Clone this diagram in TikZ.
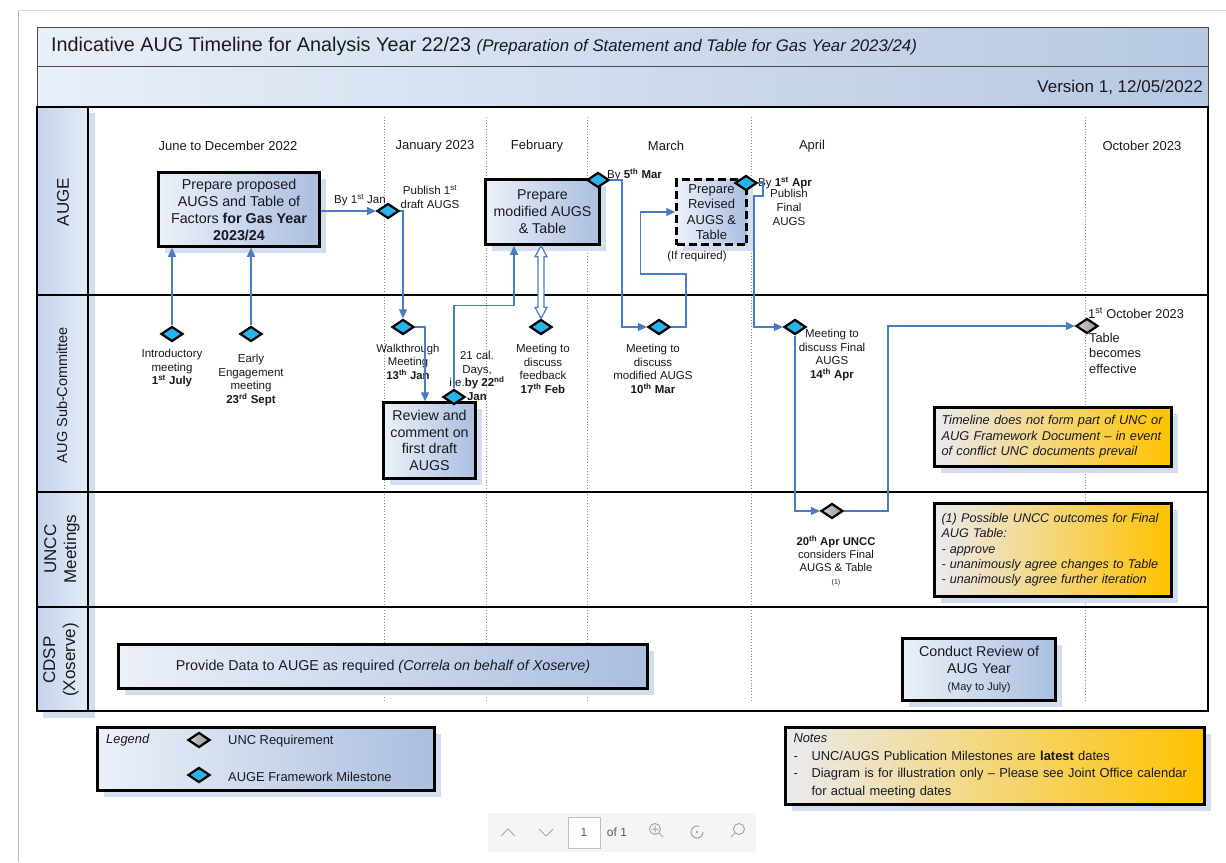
\documentclass[tikz,border=0pt]{standalone}
\usepackage{fontspec}
\setmainfont{Liberation Sans}
\usetikzlibrary{shapes.geometric,arrows.meta,calc,shadows}
\definecolor{connc}{RGB}{74,124,196}
\definecolor{dblue}{RGB}{38,180,236}
\definecolor{boxl}{RGB}{236,241,249}
\definecolor{boxr}{RGB}{170,190,222}
\definecolor{shad}{RGB}{210,222,240}
\definecolor{gold}{RGB}{255,194,0}
\definecolor{notel}{RGB}{234,234,240}
\definecolor{gridc}{RGB}{140,140,140}
\definecolor{txt}{RGB}{25,25,35}
\definecolor{titl}{RGB}{233,239,248}
\definecolor{titr}{RGB}{182,200,226}
\definecolor{coll}{RGB}{196,211,235}
\definecolor{colr}{RGB}{228,235,246}
\newcommand{\fsz}[2]{\fontsize{#1}{#2}\selectfont}
\newcommand{\sups}[1]{\textsuperscript{#1}}
\begin{document}
\begin{tikzpicture}[x=1pt,y=-1pt,
  every node/.style={text=txt, inner sep=0pt},
  conn/.style={draw=connc, line width=1.4pt},
  arr/.style={conn, -{Triangle[length=9pt,width=8pt]}},
  bdia/.style={diamond, draw=black, line width=2.2pt, fill=dblue, minimum width=22pt, minimum height=15pt, inner sep=0pt},
  gdia/.style={diamond, draw=black, line width=2.2pt, left color=gray!35, right color=gray!85, minimum width=22pt, minimum height=15pt, inner sep=0pt},
  tbox/.style={draw=black, line width=2.5pt, left color=boxl, right color=boxr, align=center, drop shadow={shadow xshift=6pt, shadow yshift=-6pt, fill=shad, opacity=1}},
  nbox/.style={draw=black, line width=2.5pt, left color=notel, right color=gold, align=left, drop shadow={shadow xshift=6pt, shadow yshift=-6pt, fill=shad, opacity=1}},
  lbl/.style={font=\fsz{11.5}{13.7}, align=center},
  month/.style={font=\fsz{13}{15}},
  gridln/.style={draw=gridc, dotted, line width=0.9pt},
  lanel/.style={draw=black, line width=2.5pt},
  ui/.style={draw=gray!70, line width=1pt},
]
\useasboundingbox (0,0) rectangle (1226,862);
\fill[white] (0,0) rectangle (1226,862);
\draw[gray!55, line width=1pt] (18,10) -- (18,862);
\draw[gray!30, line width=0.8pt] (18,10) -- (1226,10);

% title bar
\draw[gray!60!black, line width=1pt, left color=titl, right color=titr] (37,27) rectangle (1208,107);
\draw[gray!60!black, line width=1pt] (37,66) -- (1208,66);
\node[anchor=west, font=\fsz{19.8}{22}] (title) at (51,46.5) {Indicative AUG Timeline for Analysis Year 22/23 {\fsz{16.8}{19}\itshape (Preparation of Statement and Table for Gas Year 2023/24)}};
\node[anchor=east, font=\fsz{17}{20}] (version) at (1203,87) {Version 1, 12/05/2022};

% lanes
\fill[shad] (43,113) rectangle (95,718);
\fill[left color=coll, right color=colr] (37,107) rectangle (88,711);
\foreach \x in {384,486,587,751,1085} \draw[gridln] (\x,117) -- (\x,702);
\draw[lanel] (37,107) rectangle (1208,711);
\draw[lanel] (88,107) -- (88,711);
\foreach \y in {295,492,607} \draw[lanel] (37,\y) -- (1208,\y);

\node[rotate=90, font=\fsz{17}{19}] (lauge) at (63,202) {AUGE};
\node[rotate=90, font=\fsz{14.5}{17}] (lsub) at (62,395) {AUG Sub-Committee};
\node[rotate=90, font=\fsz{17}{20}, align=center] (luncc) at (62,549) {UNCC\\Meetings};
\node[rotate=90, font=\fsz{17}{20}, align=center] (lcdsp) at (61,660) {CDSP\\(Xoserve)};

% months
\node[month] (m1) at (228,146) {June to December 2022};
\node[month] (m2) at (435,146) {January 2023};
\node[month] (m3) at (537,146) {February};
\node[month] (m4) at (666,146) {March};
\node[month] (m5) at (812,146) {April};
\node[month] (m6) at (1142,146) {October 2023};

% boxes
\node[tbox, minimum width=161pt, minimum height=74pt, font=\fsz{14.3}{17}] (prop) at (239,209.5) {Prepare proposed\\AUGS and Table of\\Factors \textbf{for Gas Year}\\\textbf{2023/24}};
\node[tbox, minimum width=114pt, minimum height=65pt, font=\fsz{14.2}{17}] (mod) at (542.5,212) {Prepare\\modified AUGS\\\& Table};
\node[tbox, dashed, dash pattern=on 8pt off 4pt, minimum width=70pt, minimum height=65pt, font=\fsz{13}{15.5}] (rev) at (711.5,212) {Prepare\\Revised\\AUGS \&\\Table};
\node[tbox, minimum width=92pt, minimum height=76pt, font=\fsz{14.2}{16.5}] (review) at (429.5,440.5) {Review and\\comment on\\first draft\\AUGS};
\node[tbox, minimum width=529pt, minimum height=44pt, font=\fsz{14.3}{17}] (cdsp1) at (383,666.5) {Provide Data to AUGE as required \textit{(Correla on behalf of Xoserve)}};
\node[tbox, minimum width=153pt, minimum height=62pt, font=\fsz{14.3}{17}] (cdsp2) at (979,669.5) {Conduct Review of\\AUG Year\\{\fsz{11}{15}(May to July)}};

\node[nbox, minimum width=237pt, minimum height=59pt, text width=223pt, font=\fsz{12.8}{15.5}\itshape] (note1) at (1053,437) {Timeline does not form part of UNC or\\AUG Framework Document – in event\\of conflict UNC documents prevail};
\node[nbox, minimum width=237pt, minimum height=93pt, text width=223pt, font=\fsz{12.6}{15.3}\itshape] (note2) at (1053,550) {(1) Possible UNCC outcomes for Final\\AUG Table:\\- approve\\- unanimously agree changes to Table\\- unanimously agree further iteration};

% legend and notes
\node[tbox, minimum width=337pt, minimum height=63pt] (legend) at (266,759) {};
\node[anchor=west, font=\fsz{12.9}{15}\itshape] (legt) at (106,740.5) {Legend};
\node[gdia] (lg1) at (199,740) {};
\node[anchor=west, font=\fsz{12.9}{15}] (lgt1) at (228,741) {UNC Requirement};
\node[bdia] (lg2) at (199,775) {};
\node[anchor=west, font=\fsz{12.9}{15}] (lgt2) at (228,776.5) {AUGE Framework Milestone};

\node[nbox, minimum width=419pt, minimum height=77pt, text width=403pt, font=\fsz{12.9}{17.5}] (notes) at (995,766) {\textit{Notes}\\\makebox[18pt][l]{-}UNC/AUGS Publication Milestones are \textbf{latest} dates\\\makebox[18pt][l]{-}Diagram is for illustration only – Please see Joint Office calendar\\\hspace*{18pt}for actual meeting dates};

% diamonds
\node[bdia] (pub1) at (388,211) {};
\node[bdia] (d5) at (598,180) {};
\node[bdia] (d1) at (746,183) {};
\node[bdia] (intro) at (172,334) {};
\node[bdia] (early) at (251,334) {};
\node[bdia] (walk) at (403,327) {};
\node[bdia] (d22) at (454,397) {};
\node[bdia] (feb) at (541,327) {};
\node[bdia] (mar) at (659,327) {};
\node[bdia] (apr) at (795,327) {};
\node[gdia] (uncc) at (832,511) {};
\node[gdia] (oct) at (1087,326) {};

% labels
\node[lbl] (tby1) at (360,200) {By 1\sups{st} Jan};
\node[lbl, anchor=north] (tpub1) at (430,185) {Publish 1\sups{st}\\draft AUGS};
\node[lbl, anchor=west] (tby5) at (607,175) {By \textbf{5\sups{th} Mar}};
\node[lbl, anchor=west] (tbyapr) at (758,183) {By \textbf{1\sups{st} Apr}};
\node[lbl, anchor=north, font=\fsz{11.5}{14}] (tpubf) at (789,189) {Publish\\Final\\AUGS};
\node[lbl] (tifreq) at (697,257) {(If required)};
\node[lbl, anchor=north] (tintro) at (172,349) {Introductory\\meeting\\\textbf{1\sups{st} July}};
\node[lbl, anchor=north] (tearly) at (251,354) {Early\\Engagement\\meeting\\\textbf{23\sups{rd} Sept}};
\node[lbl, anchor=north, font=\fsz{11.3}{13.5}] (twalk) at (408,344) {Walkthrough\\Meeting\\\textbf{13\sups{th} Jan}};
\node[lbl, anchor=north] (td22) at (477,351) {21 cal.\\Days,\\i.e.\textbf{by 22\sups{nd}}\\\textbf{Jan}};
\node[lbl, anchor=north] (tfeb) at (543,344) {Meeting to\\discuss\\feedback\\\textbf{17\sups{th} Feb}};
\node[lbl, anchor=north] (tmar) at (653,344) {Meeting to\\discuss\\modified AUGS\\\textbf{10\sups{th} Mar}};
\node[lbl, anchor=north] (tapr) at (832,329) {Meeting to\\discuss Final\\AUGS\\\textbf{14\sups{th} Apr}};
\node[lbl, anchor=north, font=\fsz{11.3}{13}] (tuncc) at (836,536) {\textbf{20\sups{th} Apr UNCC}\\considers Final\\AUGS \& Table\\{\fsz{7}{9}(1)}};
\node[anchor=west, font=\fsz{12.8}{15}] (toct) at (1088,313) {1\sups{st} October 2023};
\node[anchor=north west, align=left, font=\fsz{12.8}{15.5}] (teff) at (1089,333) {Table\\becomes\\effective};

% connectors
\draw[arr] (prop.east |- pub1.west) -- (pub1.west);
\draw[arr] (pub1.east) -| (walk.north);
\draw[arr] (intro.north) -- (intro.north |- prop.south);
\draw[arr] (early.north) -- (early.north |- prop.south);
\draw[arr] (walk.east) -| ($(review.north)+(-4.5,0)$);
\draw[arr] (d22.north) |- ($(mod.south)+(-28.5,60)$) -- ($(mod.south)+(-28.5,0)$);
\draw[arr] (d5.east) -| ($(mar.west)+(-25,0)$) -- (mar.west);
\draw[arr] (mar.east) -| ($(mar.east)+(15,-53)$) -| ($(rev.west)+(-35,0)$) -- (rev.west);
\draw[arr] (d1.east) -- ++(5,0) -- ++(0,13) -- ++(-9,0) |- (apr.west);
\draw[arr] (apr.south) |- (uncc.west);
\draw[arr] (uncc.east) -| ($(oct.west)+(-187,0)$) -- (oct.west);
% hollow double arrow
\coordinate (ht) at (mod.south -| feb.north);
\coordinate (hb) at (feb.north);
\draw[conn, line width=1.2pt, fill=white] (ht) -- ++(6,11) -- ++(-3,0) -- ($(hb)+(3,-11)$) -- ++(3,0) -- (hb) -- ++(-6,-11) -- ++(3,0) -- ($(ht)+(-3,11)$) -- ++(-3,0) -- cycle;

% viewer controls
\fill[gray!8] (488,813) rectangle (756,852);
\draw[ui] (501,836) -- (508,829) -- (515,836);
\draw[ui] (539,829) -- (546,836) -- (553,829);
\node[draw=gray!50, fill=white, minimum width=32pt, minimum height=31pt, font=\fsz{12}{14}, text=gray!70!black] (pg) at (584,832.5) {1};
\node[font=\fsz{12}{14}, text=gray!70!black] (pgof) at (617,832.5) {of 1};
\draw[ui] (655,829) circle (5.5) (651.5,829) -- (658.5,829) (655,825.5) -- (655,832.5) (659,833) -- (663,837);
\draw[ui] (703,832) arc[start angle=0, end angle=290, radius=6];
\fill[gray!70] (697,832) circle (1.3);
\draw[ui] (739,829) circle (5.5) (735,833) -- (731,837);
\end{tikzpicture}
\end{document}
